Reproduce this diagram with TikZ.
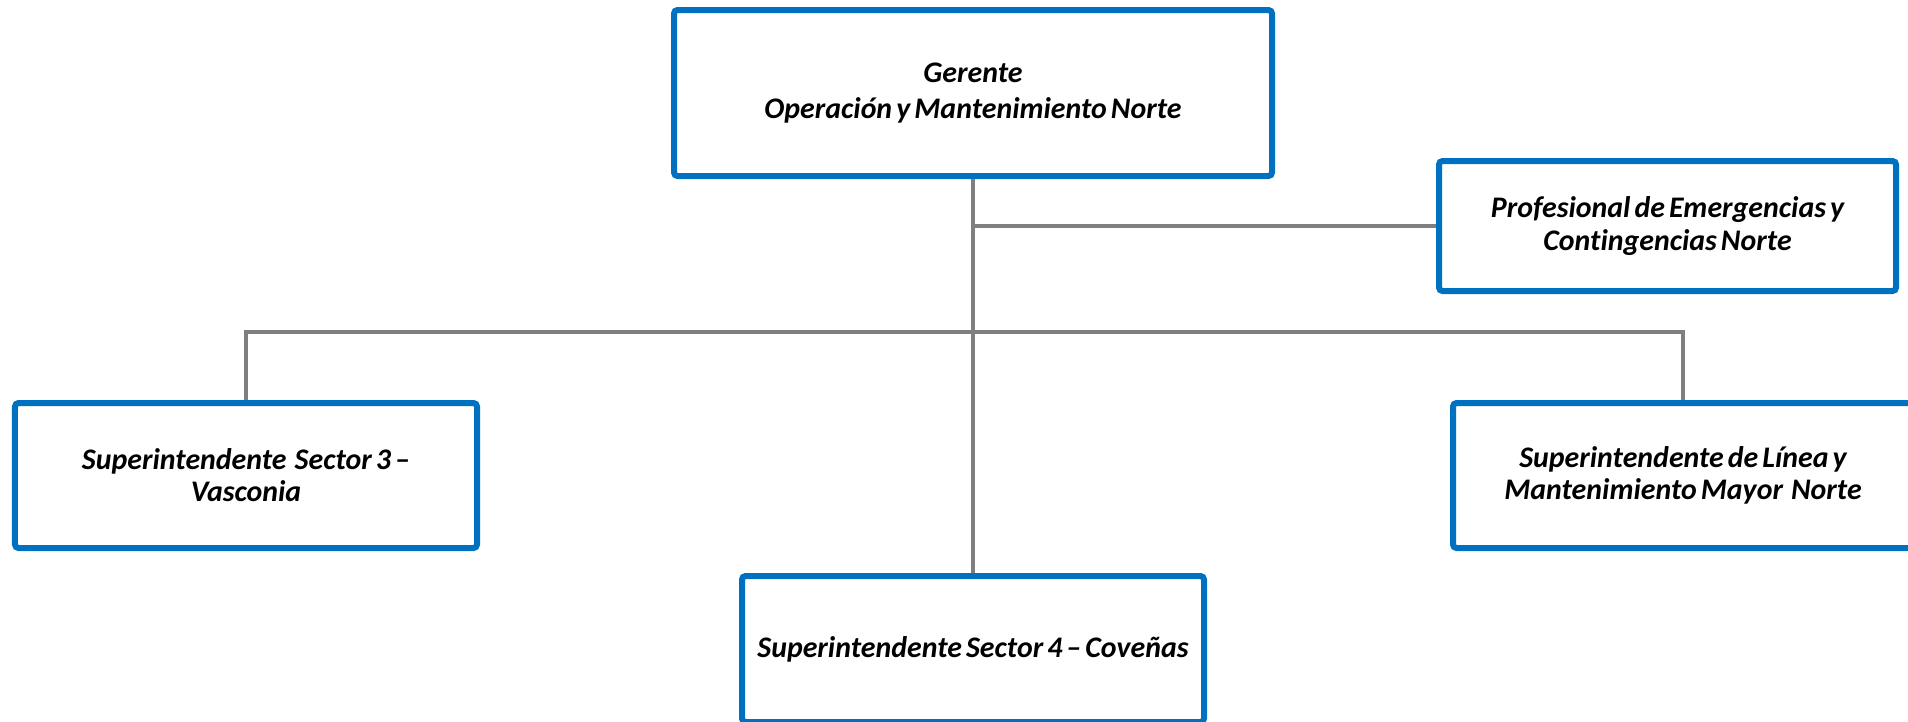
\documentclass[tikz,border=0pt]{standalone}
\usepackage{fontspec}
\setmainfont{Carlito}[Ligatures=NoCommon, WordSpace=0.6]
\usepackage{tikz}
\usetikzlibrary{positioning,calc}
\definecolor{azul}{HTML}{0070C0}
\definecolor{gris}{HTML}{7F7F7F}
\tikzset{unidad/.style={draw=azul, line width=0.12cm, fill=white, rounded corners=2pt, align=center, inner sep=2pt}}
\tikzstyle{linea}=[draw=gris, line width=0.08cm]

\begin{document}
\begin{tikzpicture}[font=\fontsize{17}{18.3}\selectfont\bfseries\itshape]
\useasboundingbox (0,0) rectangle (38.16,-14.42);
\node[unidad, minimum width=11.96cm, minimum height=3.32cm] (G0) at (19.46,-1.86) {Gerente\\[2.3pt]Operación y Mantenimiento Norte};
\node[unidad, minimum width=9.14cm, minimum height=2.6cm] (P1) at (33.35,-4.52) {Profesional de Emergencias y\\Contingencias Norte};
\node[unidad, minimum width=9.24cm, minimum height=2.9cm] (S3) at (4.92,-9.51) {Superintendente\ \ Sector 3 --\\Vasconia};
\node[unidad, minimum width=9.2cm, minimum height=2.9cm] (L1) at (33.66,-9.51) {Superintendente de Línea y\\Mantenimiento Mayor\ \ Norte};
\node[unidad, minimum width=9.24cm, minimum height=2.92cm] (S4) at (19.46,-12.98) {Superintendente Sector 4 -- Coveñas};
\coordinate (B0) at (19.46,-6.64);

\path[linea] (G0.south) -- (S4.north);
\path[linea] (G0.south |- P1.west) -- (P1.west);
\path[linea] (S3.north) |- (B0) -| (L1.north);
\end{tikzpicture}
\end{document}
